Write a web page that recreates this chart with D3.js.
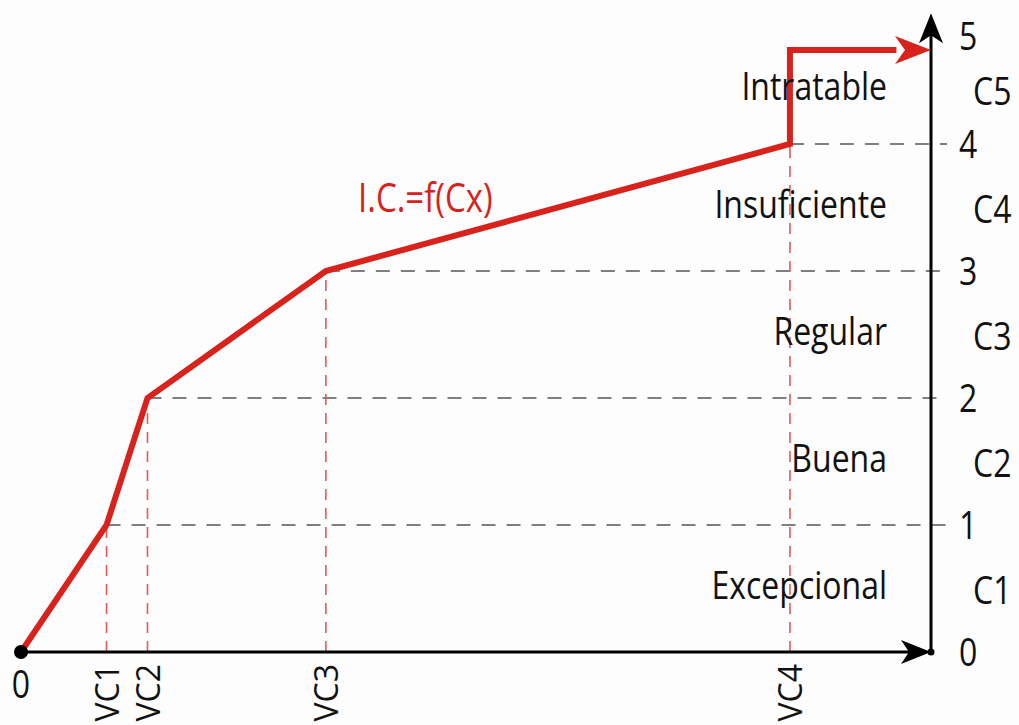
<!DOCTYPE html>
<html><head><meta charset="utf-8">
<script src="https://cdn.jsdelivr.net/npm/d3@7"></script>
<style>html,body{margin:0;padding:0;background:#fdfdfd;}svg{display:block;}</style>
</head><body>
<svg id="c" width="1019" height="725"></svg>
<script>
// ---- data ----
const levels = [0, 1, 2, 3, 4];
const levelLabels = ["0", "1", "2", "3", "4"];
const topLabel = "5";
const topLevel = 4.86;                    // where the "5" label sits (top of the scale)
const categories = ["Excepcional", "Buena", "Regular", "Insuficiente", "Intratable"];
const classLabels = ["C1", "C2", "C3", "C4", "C5"];
const breakNames = ["VC1", "VC2", "VC3", "VC4"];
const breakX = [9.4, 13.9, 33.5, 84.5];   // position of VC1..VC4 along the x axis (0..100)
const breakY = [1, 2, 3, 4];              // I.C. value reached at each breakpoint
const finalY = 4.74;                      // level of the final arrow (C5)
const curveLabel = "I.C.=f(Cx)";

// ---- scales ----
const svg = d3.select("#c");
const x = d3.scaleLinear().domain([0, 100]).range([21, 931]);
const y = d3.scaleLinear().domain([0, 4]).range([652, 144]);
const RED = "#d8231d", DRED = "#e8575a", GREY = "#555";
const FONT = "'Open Sans', 'Noto Sans', sans-serif";

function txt(g, str, px, py, opt) {
  const sy = opt.sy || 1.2;
  return g.append("text")
    .attr("transform", `translate(${px},${py}) scale(1,${sy})`)
    .attr("text-anchor", opt.anchor || "start")
    .attr("dominant-baseline", "central")
    .attr("font-family", FONT)
    .attr("font-size", opt.size || 32)
    .attr("fill", opt.fill || "#111")
    .text(str);
}

// dashed horizontal guides
const g = svg.append("g");
breakY.forEach((v, i) => {
  g.append("line").attr("x1", x(breakX[i])).attr("x2", x(100) + 16)
    .attr("y1", y(v)).attr("y2", y(v))
    .attr("stroke", GREY).attr("stroke-width", 1.6).attr("stroke-dasharray", "14,11");
});
// dashed vertical red guides
breakX.forEach((bx, i) => {
  g.append("line").attr("x1", x(bx)).attr("x2", x(bx))
    .attr("y1", y(0)).attr("y2", y(breakY[i]))
    .attr("stroke", DRED).attr("stroke-width", 1.6).attr("stroke-dasharray", "11,8");
});

// axes
g.append("line").attr("x1", x(0)).attr("x2", x(100) - 20).attr("y1", y(0)).attr("y2", y(0))
  .attr("stroke", "#000").attr("stroke-width", 3);
g.append("line").attr("x1", x(100)).attr("x2", x(100)).attr("y1", y(0)).attr("y2", y(4.95))
  .attr("stroke", "#000").attr("stroke-width", 3);
// x arrow
const xa = x(100), ya = y(0);
g.append("path").attr("d", `M${xa},${ya} L${xa-30},${ya-12} L${xa-22},${ya} L${xa-30},${ya+12} Z`).attr("fill", "#000");
// y arrow
const yt = y(5.03);
g.append("path").attr("d", `M${xa},${yt} L${xa-12},${yt+30} L${xa},${yt+22} L${xa+12},${yt+30} Z`).attr("fill", "#000");
g.append("circle").attr("cx", xa).attr("cy", ya).attr("r", 3.5).attr("fill", "#000");

// curve
const pts = [[0, 0]].concat(breakX.map((bx, i) => [bx, breakY[i]]), [[breakX[3], finalY], [96.2, finalY]]);
const line = d3.line().x(d => x(d[0])).y(d => y(d[1]));
g.append("path").attr("d", line(pts))
  .attr("fill", "none").attr("stroke", RED).attr("stroke-width", 6).attr("stroke-linejoin", "miter");
const ry = y(finalY);
g.append("path").attr("d", `M${xa},${ry} L${xa-36},${ry-14} L${xa-26},${ry} L${xa-36},${ry+14} Z`).attr("fill", RED);
g.append("circle").attr("cx", x(0)).attr("cy", y(0)).attr("r", 7).attr("fill", "#000");

// tick labels on the right
levels.forEach((v, i) => txt(g, levelLabels[i], 959, y(v) - 1, {}));
txt(g, topLabel, 959, y(topLevel), {});
// class labels and category names (centred in each band)
const bounds = levels.concat([topLevel]);
categories.forEach((c, i) => {
  const mid = y((bounds[i] + bounds[i + 1]) / 2);
  txt(g, c, 887, mid - 5, { anchor: "end" });
  txt(g, classLabels[i], 973, mid, {});
});

// x labels
txt(g, "0", x(0), 683, { anchor: "middle" });
breakNames.forEach((n, i) => {
  g.append("text")
    .attr("transform", `translate(${x(breakX[i])},${664}) rotate(-90)`)
    .attr("text-anchor", "end").attr("dominant-baseline", "central")
    .attr("font-family", FONT).attr("font-size", 32).attr("fill", "#111")
    .text(n);
});

// curve label
txt(g, curveLabel, 358, 197, { fill: RED, size: 33 });
</script>
</body></html>
